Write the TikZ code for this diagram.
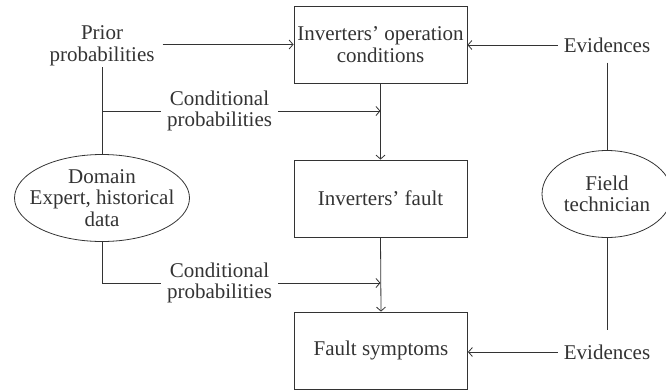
\documentclass[tikz,border=0pt]{standalone}
\usepackage{fontspec}
\setmainfont{Liberation Serif}
\usetikzlibrary{shapes.geometric,arrows.meta}
\definecolor{ink}{HTML}{333333}
\begin{document}
\begin{tikzpicture}[x=1pt,y=-1pt,
  every node/.style={font=\fontsize{21}{21.5}\selectfont, text=ink, align=center},
  box/.style={draw=ink, line width=0.8pt, minimum width=173pt, minimum height=77pt, inner sep=0pt},
  oval/.style={draw=ink, ellipse, line width=0.8pt, inner sep=0pt},
  lbl/.style={inner xsep=6pt, inner ysep=0pt},
  conn/.style={draw=ink, line width=0.8pt},
  arr/.style={conn, -{Straight Barb[length=4pt,width=9pt]}}]
\useasboundingbox (0,0) rectangle (666,391);
\node[box] (ops) at (380.5,44.5) {Inverters’ operation\\conditions};
\node[box] (fault) at (380.5,198.5) {Inverters’ fault};
\node[box] (sym) at (381,350.5) {Fault symptoms};
\node[oval, inner xsep=-11pt, inner ysep=0pt, minimum width=175pt, minimum height=87pt] (dom) at (102,198) {Domain\\Expert, historical\\data};
\node[oval, minimum width=130pt, minimum height=87pt] (field) at (607,194) {Field\\technician};
\node[lbl, inner xsep=8pt, inner ysep=1pt] (prior) at (102,46) {Prior\\probabilities};
\node[lbl] (cp1) at (219.5,111) {Conditional\\probabilities};
\node[lbl] (cp2) at (219.5,283) {Conditional\\probabilities};
\node[lbl, inner ysep=10pt] (ev1) at (607,45) {Evidences};
\node[lbl, inner ysep=14pt] (ev2) at (607,352) {Evidences};
\draw[arr] (prior.east |- ops.west) -- (ops.west);
\draw[conn] (prior.south) -- (dom.north);
\draw[conn] (prior.south |- cp1.west) -- (cp1.west);
\draw[arr] (cp1.east) -- (ops.south |- cp1.east);
\draw[arr] (ops.south) -- (fault.north);
\draw[conn] (dom.south) |- (cp2.west);
\draw[arr] (cp2.east) -- (fault.south |- cp2.east);
\draw[arr] (fault.south) -- (sym.north);
\draw[arr] (ev1.west) -- (ops.east |- ev1.west);
\draw[conn] (ev1.south) -- (field.north);
\draw[conn] (field.south) -- (ev2.north);
\draw[arr] (ev2.west) -- (sym.east |- ev2.west);
\end{tikzpicture}
\end{document}
